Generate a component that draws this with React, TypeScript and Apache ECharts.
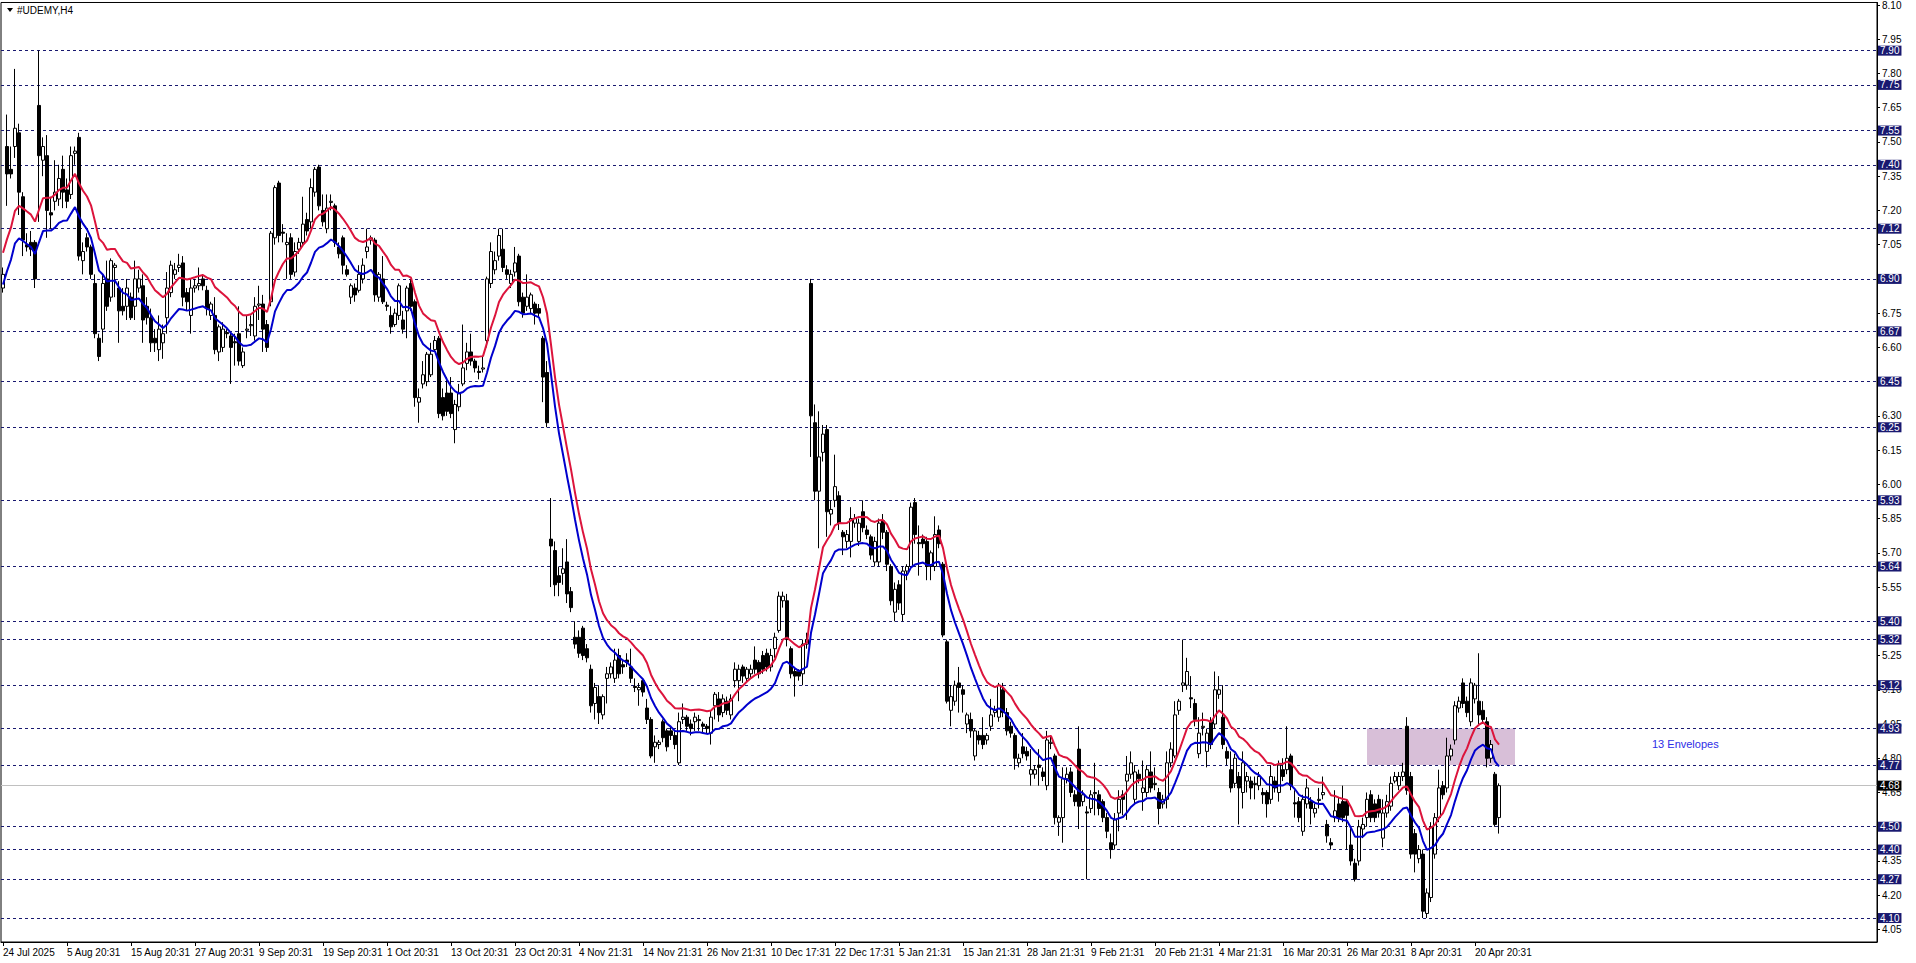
import React, { useEffect, useRef } from 'react';
import * as echarts from 'echarts';

// ---- data ----
const symbolTitle = '#UDEMY,H4';
const indicatorLabel = '13 Envelopes';

const timeLabels = [
  '24 Jul 2025', '5 Aug 20:31', '15 Aug 20:31', '27 Aug 20:31', '9 Sep 20:31', '19 Sep 20:31',
  '1 Oct 20:31', '13 Oct 20:31', '23 Oct 20:31', '4 Nov 21:31', '14 Nov 21:31', '26 Nov 21:31',
  '10 Dec 17:31', '22 Dec 17:31', '5 Jan 21:31', '15 Jan 21:31', '28 Jan 21:31', '9 Feb 21:31',
  '20 Feb 21:31', '4 Mar 21:31', '16 Mar 20:31', '26 Mar 20:31', '8 Apr 20:31', '20 Apr 20:31',
];
const barsPerLabel = 16;
const totalSlots = 469;

const priceTicks = [
  4.05, 4.2, 4.35, 4.5, 4.65, 4.8, 4.95, 5.1, 5.25, 5.4, 5.55, 5.7, 5.85, 6.0,
  6.15, 6.3, 6.45, 6.6, 6.75, 6.9, 7.05, 7.2, 7.35, 7.5, 7.65, 7.8, 7.95, 8.1,
];
const levelLines = [
  7.9, 7.75, 7.55, 7.4, 7.12, 6.9, 6.67, 6.45, 6.25, 5.93, 5.64, 5.4, 5.32, 5.12,
  4.93, 4.77, 4.5, 4.4, 4.27, 4.1,
];
const currentPrice = 4.68;

const zoneBars = ['341', '378'];
const zonePrices = [4.93, 4.77];

const emaPeriod = 13;
const emaStart = 6.945;
const envDeviation = 0.01;

// [open, close, low, high]
const candles: number[][] = [
  [6.86, 6.92, 6.84, 6.95], [7.48, 7.36, 7.22, 7.62], [7.38, 7.36, 7.34, 7.48], [7.48, 7.56, 7.43, 7.82], [7.54, 7.28, 7.18, 7.58],
  [7.26, 7.07, 7.0, 7.28], [7.05, 7.04, 7.02, 7.1], [7.06, 7.03, 7.0, 7.11], [7.06, 6.9, 6.86, 7.07], [7.66, 7.44, 7.15, 7.9],
  [7.42, 7.48, 7.35, 7.52], [7.44, 7.2, 7.08, 7.53], [7.19, 7.18, 7.12, 7.26], [7.24, 7.28, 7.2, 7.42], [7.25, 7.34, 7.22, 7.4],
  [7.38, 7.28, 7.21, 7.44], [7.29, 7.24, 7.21, 7.34], [7.27, 7.44, 7.25, 7.48], [7.45, 7.46, 7.4, 7.48], [7.52, 7.0, 6.98, 7.54],
  [6.98, 7.02, 6.92, 7.06], [7.08, 7.04, 7.02, 7.1], [7.04, 6.92, 6.9, 7.05], [6.88, 6.66, 6.64, 6.92], [6.64, 6.56, 6.54, 6.66],
  [6.68, 6.88, 6.62, 6.92], [6.9, 6.78, 6.76, 6.98], [6.82, 6.98, 6.8, 6.99], [6.95, 6.96, 6.82, 6.97], [6.86, 6.76, 6.62, 6.89],
  [6.78, 6.76, 6.74, 6.86], [6.78, 6.86, 6.72, 6.9], [6.82, 6.73, 6.72, 6.84], [6.78, 6.9, 6.72, 6.98], [6.86, 6.9, 6.84, 6.94],
  [6.87, 6.72, 6.62, 6.92], [6.78, 6.73, 6.7, 6.82], [6.73, 6.62, 6.58, 6.77], [6.64, 6.62, 6.58, 6.68], [6.59, 6.68, 6.54, 6.74],
  [6.62, 6.66, 6.55, 6.7], [6.73, 6.86, 6.66, 6.93], [6.84, 6.96, 6.82, 6.98], [6.92, 6.94, 6.9, 6.97], [6.95, 6.96, 6.93, 7.01],
  [6.97, 6.82, 6.78, 7.0], [6.84, 6.8, 6.76, 6.86], [6.74, 6.86, 6.66, 6.9], [6.86, 6.87, 6.84, 6.9], [6.87, 6.88, 6.85, 6.95],
  [6.9, 6.87, 6.85, 6.92], [6.85, 6.77, 6.74, 6.87], [6.74, 6.79, 6.72, 6.8], [6.74, 6.59, 6.57, 6.82], [6.58, 6.69, 6.54, 6.7],
  [6.6, 6.68, 6.58, 6.71], [6.665, 6.66, 6.64, 6.68], [6.65, 6.6, 6.44, 6.67], [6.625, 6.62, 6.52, 6.66], [6.66, 6.54, 6.52, 6.78],
  [6.52, 6.58, 6.51, 6.6], [6.675, 6.68, 6.64, 6.74], [6.695, 6.7, 6.65, 6.74], [6.65, 6.78, 6.63, 6.82], [6.785, 6.79, 6.72, 6.87],
  [6.79, 6.68, 6.58, 6.83], [6.7, 6.6, 6.58, 6.72], [6.8, 7.1, 6.78, 7.11], [7.08, 7.3, 7.05, 7.31], [7.32, 7.09, 7.06, 7.33],
  [7.105, 7.1, 7.06, 7.14], [7.05, 7.06, 6.9, 7.1], [7.08, 6.92, 6.9, 7.1], [6.93, 7.02, 6.91, 7.06], [7.03, 7.06, 7.01, 7.08],
  [7.06, 7.14, 7.04, 7.26], [7.16, 7.11, 7.09, 7.19], [7.15, 7.3, 7.12, 7.34], [7.28, 7.38, 7.26, 7.39], [7.39, 7.22, 7.2, 7.4],
  [7.2, 7.15, 7.13, 7.27], [7.12, 7.21, 7.1, 7.27], [7.235, 7.24, 7.2, 7.27], [7.22, 7.06, 7.04, 7.23], [7.04, 7.01, 6.99, 7.06],
  [7.08, 6.96, 6.92, 7.09], [6.94, 6.92, 6.91, 6.96], [6.82, 6.87, 6.79, 6.88], [6.86, 6.83, 6.8, 6.88], [6.85, 6.92, 6.84, 6.96],
  [6.9, 6.96, 6.88, 6.99], [7.02, 7.04, 6.99, 7.12], [7.07, 7.08, 7.05, 7.09], [7.07, 6.83, 6.8, 7.08], [6.82, 6.92, 6.8, 6.93],
  [6.9, 6.8, 6.79, 7.0], [6.785, 6.78, 6.76, 6.8], [6.74, 6.69, 6.66, 6.78], [6.7, 6.75, 6.69, 6.77], [6.74, 6.87, 6.72, 6.88],
  [6.72, 6.68, 6.66, 6.76], [6.76, 6.86, 6.64, 6.87], [6.88, 6.78, 6.76, 6.9], [6.8, 6.38, 6.34, 6.81], [6.36, 6.38, 6.27, 6.42],
  [6.44, 6.48, 6.42, 6.54], [6.45, 6.57, 6.43, 6.58], [6.48, 6.57, 6.47, 6.62], [6.59, 6.63, 6.58, 6.65], [6.64, 6.31, 6.29, 6.65],
  [6.38, 6.3, 6.28, 6.42], [6.4, 6.32, 6.3, 6.47], [6.4, 6.31, 6.29, 6.47], [6.24, 6.35, 6.18, 6.37], [6.34, 6.4, 6.32, 6.44],
  [6.44, 6.51, 6.43, 6.7], [6.53, 6.58, 6.5, 6.62], [6.58, 6.54, 6.52, 6.66], [6.54, 6.51, 6.49, 6.55], [6.495, 6.49, 6.46, 6.52],
  [6.505, 6.51, 6.49, 6.56], [6.63, 6.9, 6.6, 6.91], [6.88, 7.02, 6.86, 7.06], [6.94, 6.98, 6.92, 7.02], [7.0, 7.09, 6.98, 7.12],
  [7.03, 6.95, 6.93, 7.12], [6.94, 6.92, 6.9, 6.96], [6.88, 6.92, 6.86, 6.94], [6.93, 6.97, 6.91, 7.04], [7.0, 6.8, 6.78, 7.01],
  [6.82, 6.75, 6.73, 6.84], [6.78, 6.82, 6.76, 6.92], [6.77, 6.83, 6.75, 6.84], [6.79, 6.75, 6.7, 6.8], [6.77, 6.75, 6.73, 6.79],
  [6.64, 6.47, 6.36, 6.65], [6.49, 6.27, 6.25, 6.54], [5.76, 5.73, 5.55, 5.94], [5.71, 5.56, 5.51, 5.75], [5.6, 5.57, 5.51, 5.64],
  [5.61, 5.63, 5.56, 5.72], [5.66, 5.52, 5.48, 5.76], [5.53, 5.46, 5.44, 5.55], [5.33, 5.3, 5.28, 5.4], [5.33, 5.26, 5.24, 5.36],
  [5.37, 5.25, 5.23, 5.38], [5.28, 5.24, 5.22, 5.3], [5.19, 5.03, 5.0, 5.21], [5.04, 5.11, 4.97, 5.13], [5.07, 5.0, 4.95, 5.12],
  [4.99, 5.07, 4.97, 5.08], [5.15, 5.17, 5.04, 5.2], [5.17, 5.2, 5.15, 5.22], [5.15, 5.23, 5.13, 5.28], [5.25, 5.17, 5.15, 5.28],
  [5.21, 5.2, 5.17, 5.23], [5.23, 5.22, 5.2, 5.26], [5.2, 5.15, 5.13, 5.28], [5.115, 5.11, 5.09, 5.15], [5.1, 5.11, 5.03, 5.13],
  [5.14, 5.09, 5.07, 5.15], [5.02, 4.97, 4.95, 5.06], [4.97, 4.81, 4.8, 4.98], [4.85, 4.87, 4.78, 4.9], [4.86, 4.87, 4.84, 4.88],
  [4.96, 4.89, 4.87, 4.97], [4.92, 4.85, 4.83, 4.93], [4.92, 4.9, 4.88, 4.94], [4.9, 4.86, 4.84, 4.92], [4.78, 4.96, 4.77, 5.0],
  [4.97, 4.98, 4.95, 5.04], [4.98, 4.94, 4.92, 4.99], [4.95, 4.93, 4.9, 4.97], [4.96, 4.98, 4.92, 5.0], [4.965, 4.97, 4.92, 4.99],
  [4.95, 4.94, 4.91, 4.96], [4.94, 4.93, 4.91, 4.95], [4.91, 4.98, 4.86, 5.01], [5.03, 5.08, 4.97, 5.09], [5.06, 4.99, 4.96, 5.09],
  [5.0, 5.06, 4.98, 5.08], [5.05, 5.01, 4.99, 5.07], [4.99, 5.06, 4.97, 5.08], [5.14, 5.19, 5.11, 5.22], [5.14, 5.19, 5.05, 5.21],
  [5.2, 5.16, 5.13, 5.21], [5.15, 5.19, 5.13, 5.2], [5.17, 5.19, 5.15, 5.21], [5.23, 5.19, 5.17, 5.29], [5.22, 5.17, 5.15, 5.23],
  [5.25, 5.19, 5.17, 5.27], [5.26, 5.2, 5.18, 5.28], [5.2, 5.25, 5.18, 5.28], [5.28, 5.33, 5.24, 5.35], [5.36, 5.51, 5.35, 5.53],
  [5.49, 5.51, 5.46, 5.53], [5.49, 5.32, 5.29, 5.52], [5.28, 5.17, 5.15, 5.29], [5.18, 5.16, 5.07, 5.2], [5.18, 5.16, 5.14, 5.19],
  [5.17, 5.3, 5.12, 5.32], [5.3, 5.32, 5.28, 5.35], [6.88, 6.3, 6.12, 6.9], [6.27, 5.97, 5.93, 6.35], [5.97, 6.12, 5.72, 6.32],
  [6.14, 6.22, 6.1, 6.26], [6.24, 5.88, 5.77, 6.26], [5.87, 5.89, 5.82, 5.93], [5.93, 5.99, 5.9, 6.13], [5.95, 5.83, 5.8, 5.97],
  [5.79, 5.77, 5.69, 5.8], [5.75, 5.78, 5.72, 5.8], [5.75, 5.85, 5.68, 5.9], [5.83, 5.85, 5.81, 5.87], [5.75, 5.83, 5.73, 5.85],
  [5.88, 5.81, 5.79, 5.93], [5.8, 5.78, 5.76, 5.82], [5.77, 5.69, 5.67, 5.78], [5.66, 5.75, 5.64, 5.77], [5.66, 5.83, 5.64, 5.85],
  [5.84, 5.79, 5.76, 5.87], [5.79, 5.65, 5.62, 5.8], [5.64, 5.49, 5.47, 5.65], [5.44, 5.54, 5.4, 5.57], [5.56, 5.48, 5.45, 5.58],
  [5.43, 5.62, 5.4, 5.64], [5.62, 5.64, 5.58, 5.65], [5.64, 5.9, 5.63, 5.92], [5.92, 5.78, 5.74, 5.94], [5.745, 5.74, 5.6, 5.82],
  [5.76, 5.74, 5.72, 5.78], [5.75, 5.64, 5.58, 5.77], [5.64, 5.7, 5.58, 5.71], [5.64, 5.78, 5.62, 5.86], [5.8, 5.74, 5.72, 5.82],
  [5.65, 5.34, 5.33, 5.66], [5.31, 5.05, 5.04, 5.32], [5.01, 5.07, 4.94, 5.12], [5.05, 5.12, 5.03, 5.14], [5.13, 5.11, 5.0, 5.2],
  [5.1, 5.08, 5.0, 5.12], [4.95, 4.99, 4.91, 5.0], [4.97, 4.92, 4.89, 5.0], [4.81, 4.92, 4.79, 4.93], [4.9, 4.88, 4.86, 4.92],
  [4.9, 4.86, 4.84, 4.98], [4.88, 4.9, 4.86, 4.91], [4.94, 4.99, 4.92, 5.06], [5.0, 5.01, 4.98, 5.03], [4.98, 5.12, 4.96, 5.13],
  [5.1, 5.0, 4.98, 5.13], [5.0, 4.92, 4.9, 5.02], [4.94, 4.91, 4.89, 4.96], [4.9, 4.8, 4.75, 4.91], [4.78, 4.8, 4.76, 4.82],
  [4.85, 4.82, 4.8, 4.91], [4.83, 4.81, 4.79, 4.85], [4.73, 4.75, 4.68, 4.84], [4.73, 4.75, 4.71, 4.77], [4.77, 4.76, 4.68, 4.84],
  [4.74, 4.72, 4.7, 4.76], [4.68, 4.88, 4.66, 4.92], [4.865, 4.87, 4.84, 4.9], [4.81, 4.54, 4.51, 4.82], [4.52, 4.54, 4.46, 4.55],
  [4.54, 4.71, 4.43, 4.76], [4.71, 4.73, 4.69, 4.76], [4.74, 4.65, 4.63, 4.76], [4.64, 4.61, 4.59, 4.66], [4.84, 4.59, 4.49, 4.94],
  [4.61, 4.64, 4.59, 4.66], [4.565, 4.56, 4.27, 4.59], [4.58, 4.64, 4.56, 4.66], [4.645, 4.65, 4.55, 4.78], [4.64, 4.58, 4.55, 4.66],
  [4.61, 4.54, 4.52, 4.62], [4.54, 4.48, 4.45, 4.56], [4.43, 4.4, 4.36, 4.47], [4.42, 4.53, 4.4, 4.56], [4.56, 4.62, 4.48, 4.66],
  [4.64, 4.62, 4.55, 4.66], [4.7, 4.73, 4.53, 4.81], [4.73, 4.78, 4.71, 4.83], [4.62, 4.74, 4.6, 4.77], [4.73, 4.71, 4.69, 4.75],
  [4.65, 4.67, 4.57, 4.79], [4.65, 4.75, 4.63, 4.77], [4.74, 4.67, 4.65, 4.83], [4.685, 4.69, 4.66, 4.76], [4.65, 4.58, 4.51, 4.67],
  [4.6, 4.62, 4.58, 4.64], [4.62, 4.78, 4.58, 4.83], [4.78, 4.84, 4.76, 4.87], [4.81, 4.99, 4.8, 5.05], [5.01, 5.05, 4.99, 5.06],
  [5.12, 5.13, 5.09, 5.32], [5.12, 5.18, 5.1, 5.24], [5.065, 5.06, 5.02, 5.16], [5.04, 4.97, 4.94, 5.06], [4.82, 4.91, 4.8, 4.98],
  [4.935, 4.94, 4.9, 5.0], [4.83, 4.91, 4.76, 4.93], [4.96, 4.86, 4.84, 4.98], [4.95, 5.1, 4.93, 5.18], [5.08, 5.1, 5.06, 5.16],
  [4.98, 4.86, 4.84, 5.12], [4.83, 4.8, 4.77, 4.85], [4.75, 4.67, 4.65, 4.83], [4.69, 4.8, 4.67, 4.82], [4.72, 4.67, 4.51, 4.74],
  [4.65, 4.78, 4.58, 4.83], [4.7, 4.72, 4.65, 4.74], [4.7, 4.67, 4.62, 4.72], [4.685, 4.69, 4.62, 4.72], [4.68, 4.72, 4.66, 4.74],
  [4.65, 4.64, 4.6, 4.67], [4.65, 4.6, 4.54, 4.66], [4.62, 4.72, 4.6, 4.77], [4.7, 4.67, 4.65, 4.72], [4.65, 4.77, 4.61, 4.79],
  [4.75, 4.72, 4.7, 4.8], [4.75, 4.8, 4.73, 4.94], [4.81, 4.68, 4.66, 4.82], [4.605, 4.6, 4.54, 4.66], [4.61, 4.54, 4.52, 4.63],
  [4.48, 4.62, 4.46, 4.64], [4.6, 4.67, 4.58, 4.71], [4.61, 4.58, 4.51, 4.63], [4.56, 4.58, 4.54, 4.6], [4.615, 4.62, 4.58, 4.67],
  [4.64, 4.65, 4.62, 4.72], [4.51, 4.46, 4.43, 4.53], [4.43, 4.42, 4.4, 4.45], [4.54, 4.57, 4.52, 4.66], [4.6, 4.54, 4.52, 4.63],
  [4.61, 4.54, 4.52, 4.68], [4.61, 4.55, 4.4, 4.62], [4.42, 4.35, 4.33, 4.5], [4.34, 4.27, 4.26, 4.36], [4.35, 4.5, 4.33, 4.53],
  [4.49, 4.51, 4.45, 4.54], [4.54, 4.62, 4.5, 4.65], [4.64, 4.54, 4.52, 4.66], [4.6, 4.54, 4.52, 4.62], [4.62, 4.56, 4.54, 4.64],
  [4.45, 4.56, 4.41, 4.62], [4.56, 4.61, 4.54, 4.64], [4.59, 4.69, 4.57, 4.72], [4.7, 4.72, 4.69, 4.74], [4.68, 4.72, 4.66, 4.74],
  [4.72, 4.74, 4.7, 4.78], [4.94, 4.66, 4.64, 4.98], [4.72, 4.38, 4.36, 4.74], [4.47, 4.38, 4.3, 4.49], [4.36, 4.4, 4.34, 4.42],
  [4.38, 4.13, 4.1, 4.4], [4.12, 4.21, 4.1, 4.23], [4.19, 4.5, 4.17, 4.52], [4.38, 4.54, 4.36, 4.56], [4.54, 4.67, 4.52, 4.75],
  [4.68, 4.64, 4.62, 4.7], [4.67, 4.81, 4.65, 4.89], [4.81, 4.84, 4.79, 4.86], [4.88, 5.03, 4.86, 5.05], [5.02, 5.05, 5.0, 5.07],
  [5.13, 5.04, 5.02, 5.15], [5.05, 5.0, 4.98, 5.07], [4.96, 5.13, 4.94, 5.15], [5.06, 5.12, 5.04, 5.13], [5.05, 4.99, 4.95, 5.26],
  [5.01, 4.97, 4.95, 5.05], [4.96, 4.8, 4.76, 4.98], [4.8, 4.86, 4.78, 4.88], [4.73, 4.51, 4.5, 4.74], [4.54, 4.68, 4.47, 4.69],
];

// ---- styles ----
const NAVY = '#191970';
const FONT = 'Liberation Sans, Arial, sans-serif';

export default function App() {
  const ref = useRef<HTMLDivElement>(null);

  useEffect(() => {
    document.body.style.margin = '0';
    if (!ref.current) return;
    const chart = echarts.init(ref.current, null, { renderer: 'svg' });

    const categories = Array.from({ length: totalSlots }, (_, i) => String(i));
    const closes = candles.map((c) => c[1]);
    const k = 2 / (emaPeriod + 1);
    const mid: number[] = [];
    closes.forEach((c, i) => {
      mid.push(i === 0 ? emaStart : mid[i - 1] + (c - mid[i - 1]) * k);
    });
    const upper = mid.map((v) => +(v * (1 + envDeviation)).toFixed(4));
    const lower = mid.map((v) => +(v * (1 - envDeviation)).toFixed(4));

    const showTick = (i: number) => i % barsPerLabel === 0 && i / barsPerLabel < timeLabels.length;

    const levelData: any[] = levelLines.map((v) => ({ yAxis: v }));
    levelData.push({
      yAxis: currentPrice,
      lineStyle: { type: 'solid', color: '#c0c0c0', width: 1 },
      label: { backgroundColor: '#000000' },
    });

    chart.setOption({
      animation: false,
      backgroundColor: '#ffffff',
      grid: {
        left: 1,
        right: 39,
        top: 1,
        bottom: 21,
        show: true,
        borderColor: '#000',
        borderWidth: 1,
        backgroundColor: '#fff',
      },
      xAxis: {
        type: 'category',
        data: categories,
        boundaryGap: true,
        axisLine: { show: true, lineStyle: { color: '#000', width: 1 } },
        axisTick: {
          show: true,
          alignWithLabel: true,
          interval: (i: number) => showTick(i),
          length: 4,
          lineStyle: { color: '#000' },
        },
        axisLabel: {
          interval: (i: number) => showTick(i),
          formatter: (_v: string, i: number) => timeLabels[i / barsPerLabel] ?? '',
          align: 'left',
          color: '#000',
          fontSize: 10,
          fontFamily: FONT,
          margin: 5,
        },
        splitLine: { show: false },
      },
      yAxis: {
        type: 'value',
        position: 'right',
        min: 3.995,
        max: 8.111,
        axisLine: { show: true, lineStyle: { color: '#000', width: 1 } },
        axisTick: { show: true, length: 3, customValues: priceTicks, lineStyle: { color: '#000' } },
        axisLabel: {
          customValues: priceTicks,
          formatter: (v: number) => v.toFixed(2),
          color: '#000',
          fontSize: 10,
          fontFamily: FONT,
          margin: 5,
        },
        splitLine: { show: false },
      },
      series: [
        {
          type: 'candlestick',
          data: candles,
          barWidth: 3,
          z: 3,
          itemStyle: {
            color: '#ffffff',
            color0: '#000000',
            borderColor: '#000000',
            borderColor0: '#000000',
            borderColorDoji: '#000000',
            borderWidth: 1,
          },
          markLine: {
            silent: true,
            z: 1,
            symbol: ['none', 'none'],
            lineStyle: { type: [3, 3], color: NAVY, width: 1 },
            label: {
              show: true,
              position: 'end',
              distance: 1,
              formatter: (p: any) => Number(p.value).toFixed(2),
              color: '#fff',
              backgroundColor: NAVY,
              padding: [0, 2, 0, 2],
              fontSize: 10,
              lineHeight: 10,
              fontFamily: FONT,
            },
            data: levelData,
          },
          markArea: {
            silent: true,
            z: 0,
            itemStyle: { color: '#d8bfd8', opacity: 1 },
            data: [[
              { xAxis: zoneBars[0], yAxis: zonePrices[0] },
              { xAxis: zoneBars[1], yAxis: zonePrices[1] },
            ]],
          },
        },
        {
          type: 'line',
          data: upper,
          showSymbol: false,
          z: 4,
          lineStyle: { color: '#dc143c', width: 2 },
          itemStyle: { color: '#dc143c' },
        },
        {
          type: 'line',
          data: lower,
          showSymbol: false,
          z: 4,
          lineStyle: { color: '#0000cd', width: 2 },
          itemStyle: { color: '#0000cd' },
        },
      ],
      graphic: [
        {
          type: 'polygon',
          z: 10,
          shape: { points: [[7, 8], [13, 8], [10, 12]] },
          style: { fill: '#000' },
        },
        {
          type: 'text',
          z: 10,
          x: 17,
          y: 10,
          style: {
            text: symbolTitle,
            fill: '#000',
            font: `10px ${FONT}`,
            verticalAlign: 'middle',
          },
        },
        {
          type: 'text',
          z: 10,
          x: 1652,
          y: 744,
          style: {
            text: indicatorLabel,
            fill: '#2e2ee6',
            font: `11px ${FONT}`,
            verticalAlign: 'middle',
          },
        },
      ],
    });

    return () => chart.dispose();
  }, []);

  return <div ref={ref} style={{ width: 1916, height: 963 }} />;
}
